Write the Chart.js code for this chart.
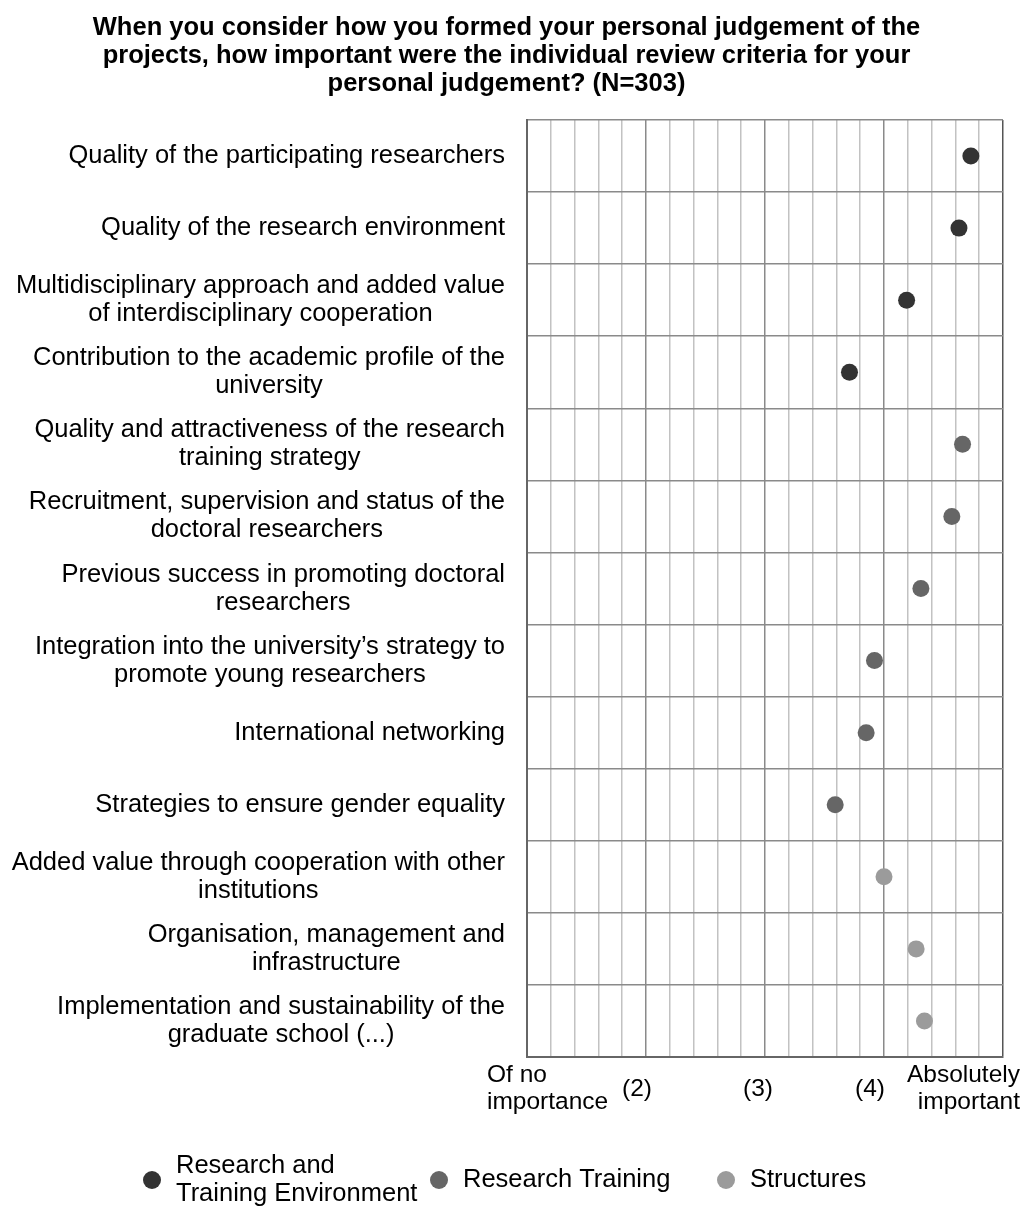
<!DOCTYPE html>
<html>
<head>
<meta charset="utf-8">
<script src="https://cdn.jsdelivr.net/npm/chart.js@4"></script>
<style>
  html, body { margin: 0; padding: 0; background: #ffffff; }
  #wrap { width: 1028px; height: 1206px; }
</style>
</head>
<body>
<div id="wrap"><canvas id="chart" width="1028" height="1206"></canvas></div>
<script>
// Review criteria, top to bottom (wrapped the way the original wraps them)
const criteria = [
    ["Quality of the participating researchers"],
    ["Quality of the research environment"],
    ["Multidisciplinary approach and added value", "of interdisciplinary cooperation"],
    ["Contribution to the academic profile of the", "university"],
    ["Quality and attractiveness of the research", "training strategy"],
    ["Recruitment, supervision and status of the", "doctoral researchers"],
    ["Previous success in promoting doctoral", "researchers"],
    ["Integration into the university\u2019s strategy to", "promote young researchers"],
    ["International networking"],
    ["Strategies to ensure gender equality"],
    ["Added value through cooperation with other", "institutions"],
    ["Organisation, management and", "infrastructure"],
    ["Implementation and sustainability of the", "graduate school (...)"]
];

// Mean ratings (1 = of no importance ... 5 = absolutely important), per group
const environmentValues = [4.73, 4.63, 4.19, 3.71];              // rows 1-4
const trainingValues = [4.66, 4.57, 4.31, 3.92, 3.85, 3.59];      // rows 5-10
const structureValues = [4.00, 4.27, 4.34];                       // rows 11-13

const seriesNames = [
    ["Research and", "Training Environment"],
    ["Research Training"],
    ["Structures"]
];
const seriesColors = ["#333333", "#666666", "#9b9b9b"];

const xTickValues = [1, 2, 3, 4, 5];
const xTickLabels = [["Of no", "importance"], ["(2)"], ["(3)"], ["(4)"], ["Absolutely", "important"]];

const titleLines = [
    "When you consider how you formed your personal judgement of the",
    "projects, how important were the individual review criteria for your",
    "personal judgement? (N=303)"
];

const FONT = '"Liberation Sans", Arial, sans-serif';

// place each group's values on its own rows, nulls elsewhere
function padRows(values, startRow) {
    const out = criteria.map(() => null);
    values.forEach((v, i) => { out[startRow + i] = v; });
    return out;
}

// draws category labels, x labels and legend the way the original lays them out
const textPlugin = {
    id: "textPlugin",
    afterDraw(chart) {
        const { ctx, chartArea } = chart;
        const xs = chart.scales.x;
        const ys = chart.scales.y;
        ctx.save();
        ctx.fillStyle = "#000000";
        ctx.textBaseline = "middle";

        // y labels: block right aligned to the plot, lines centred inside the block
        ctx.font = "25.5px " + FONT;
        ctx.textAlign = "center";
        criteria.forEach((lines, i) => {
            const cy = ys.getPixelForValue(i);
            const w = Math.max(...lines.map(l => ctx.measureText(l).width));
            const cx = chartArea.left - 22 - w / 2;
            lines.forEach((l, k) => {
                ctx.fillText(l, cx, cy + (k - (lines.length - 1) / 2) * 28);
            });
        });

        // x labels
        ctx.font = "24.5px " + FONT;
        const place = [
            { align: "left", dx: -40 },
            { align: "center", dx: -9 },
            { align: "center", dx: -7 },
            { align: "center", dx: -14 },
            { align: "right", dx: 17 }
        ];
        xTickValues.forEach((v, i) => {
            const px = xs.getPixelForValue(v) + place[i].dx;
            const lines = xTickLabels[i];
            ctx.textAlign = place[i].align;
            if (lines.length === 1) {
                ctx.fillText(lines[0], px, chartArea.bottom + 32);
            } else {
                lines.forEach((l, k) => ctx.fillText(l, px, chartArea.bottom + 18 + k * 27));
            }
        });

        // legend
        ctx.font = "25.5px " + FONT;
        ctx.textAlign = "left";
        const legendY = 1180;
        chart.data.datasets.forEach((ds, i) => {
            const mx = 152 + i * 287;
            ctx.fillStyle = ds.backgroundColor;
            ctx.beginPath();
            ctx.arc(mx, legendY, 9, 0, Math.PI * 2);
            ctx.fill();
            ctx.fillStyle = "#000000";
            const lines = seriesNames[i];
            lines.forEach((l, k) => {
                ctx.fillText(l, mx + 24, legendY + (k - (lines.length - 1) / 2) * 28);
            });
        });
        ctx.restore();
    }
};

function isMajor(v) {
    return Math.abs(v - Math.round(v)) < 1e-6;
}

function initializeChart() {
    const ctx = document.getElementById("chart").getContext("2d");
    const groups = [
        padRows(environmentValues, 0),
        padRows(trainingValues, 4),
        padRows(structureValues, 10)
    ];
    return new Chart(ctx, {
        type: "line",
        data: {
            labels: criteria.map(c => c.join(" ")),
            datasets: groups.map((data, i) => ({
                label: seriesNames[i].join(" "),
                data: data,
                showLine: false,
                backgroundColor: seriesColors[i],
                borderColor: seriesColors[i],
                pointRadius: 8.5,
                pointBorderWidth: 0,
                pointHoverRadius: 8.5
            }))
        },
        options: {
            indexAxis: "y",
            responsive: false,
            animation: false,
            devicePixelRatio: 1,
            layout: { padding: { left: 10, right: 25, top: 0, bottom: 149 } },
            plugins: {
                legend: { display: false },
                tooltip: { enabled: false },
                title: {
                    display: true,
                    text: titleLines,
                    color: "#000000",
                    font: { family: FONT, size: 25.5, weight: "bold", lineHeight: "28px" },
                    padding: { top: 14, bottom: 22 }
                }
            },
            scales: {
                x: {
                    type: "linear",
                    min: 1,
                    max: 5,
                    ticks: { stepSize: 0.2, display: false },
                    grid: {
                        drawTicks: false,
                        lineWidth: 1.5,
                        color: c => {
                            const v = c.tick.value;
                            if (Math.abs(v - 5) < 1e-6) return "#555555";
                            return isMajor(v) ? "#8a8a8a" : "#c2c2c2";
                        }
                    },
                    border: { color: "#666666", width: 2 }
                },
                y: {
                    type: "category",
                    offset: true,
                    ticks: { display: false },
                    grid: { offset: true, drawTicks: false, color: "#8a8a8a", lineWidth: 1.5 },
                    border: { color: "#666666", width: 2 },
                    afterFit: s => { s.width = 517; }
                }
            }
        },
        plugins: [textPlugin]
    });
}

document.addEventListener("DOMContentLoaded", initializeChart);
</script>
</body>
</html>
